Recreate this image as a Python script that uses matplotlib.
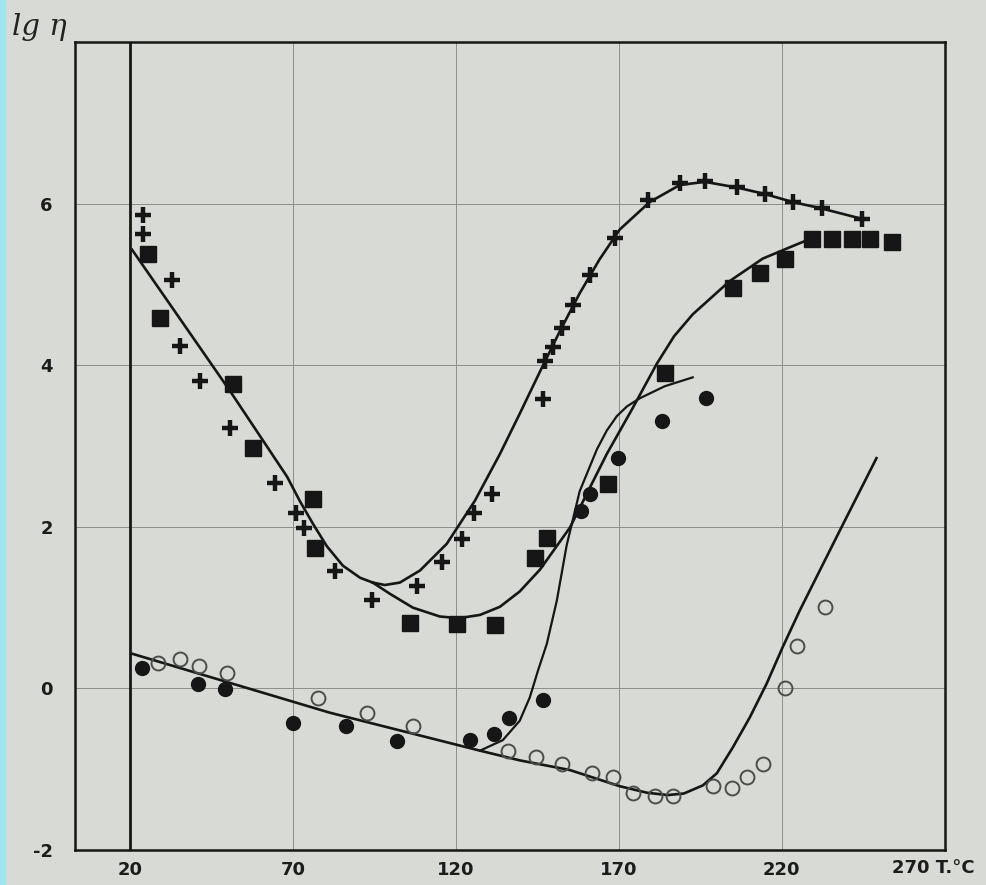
"""
lg eta vs T, old scanned chart
"""
import numpy as np
import matplotlib
matplotlib.use("Agg")
import matplotlib.pyplot as plt
from matplotlib.patches import Rectangle

# --- measured points (T in degC, lg eta) ---
plus_T = [24, 24, 32.9, 35.3, 41.5, 50.7, 64.5, 71.0, 73.4, 82.9, 94.2, 108, 115.7,
          121.8, 125.6, 131, 146.7, 147.3, 149.8, 152.5, 155.9, 161.1, 168.8, 178.9,
          188.7, 196.4, 206.2, 214.8, 223.4, 232.3, 244.8]
plus_v = [5.86, 5.62, 5.06, 4.24, 3.80, 3.22, 2.54, 2.17, 1.98, 1.45, 1.09, 1.27, 1.56,
          1.85, 2.17, 2.41, 3.58, 4.05, 4.23, 4.46, 4.75, 5.12, 5.57, 6.05,
          6.25, 6.28, 6.21, 6.12, 6.02, 5.94, 5.81]

sq_T = [25.5, 29.2, 51.6, 57.7, 76.1, 76.7, 105.9, 120.3, 132, 144.2, 147.9, 166.6,
        184.1, 205, 213.3, 220.9, 229.2, 235.6, 241.5, 247, 254]
sq_v = [5.38, 4.58, 3.77, 2.98, 2.35, 1.74, 0.81, 0.80, 0.79, 1.62, 1.86, 2.53,
        3.90, 4.95, 5.14, 5.31, 5.56, 5.56, 5.56, 5.56, 5.53]

dot_T = [23.7, 40.9, 49.1, 70, 86.3, 101.9, 124.3, 131.7, 136.3, 146.7, 158.3, 161.1,
         169.7, 183.2, 196.7]
dot_v = [0.25, 0.06, -0.01, -0.43, -0.47, -0.65, -0.64, -0.56, -0.37, -0.14, 2.20, 2.41,
         2.85, 3.31, 3.60]

ring_T = [28.6, 35.3, 41.2, 49.8, 77.7, 92.7, 106.8, 136, 144.5, 152.5, 161.7, 168.2,
          174.3, 181, 186.6, 198.8, 204.7, 209.3, 214.2, 220.9, 224.6, 233.2]
ring_v = [0.32, 0.36, 0.28, 0.19, -0.12, -0.30, -0.46, -0.77, -0.85, -0.94, -1.05, -1.10,
          -1.30, -1.33, -1.33, -1.21, -1.23, -1.10, -0.93, 0.00, 0.52, 1.01]

# --- hand drawn curves ---
# common falling branch of the + and square curves
fall_T = [20.6, 32.3, 50.7, 68.2, 72.1, 76.1, 80.4, 85.3, 90.6, 94.5]
fall_v = [5.43, 4.75, 3.68, 2.62, 2.32, 2.04, 1.76, 1.52, 1.37, 1.31]

plus_line_T = [94.5, 98.2, 102.8, 109, 117.2, 125.8, 133.5, 139.6, 145.8, 151.9, 158,
               164.1, 170.3, 179.5, 188.7, 196.4, 206.2, 214.8, 223.4, 232.3, 244.8]
plus_line_v = [1.31, 1.28, 1.31, 1.46, 1.79, 2.32, 2.90, 3.40, 3.92, 4.42, 4.89,
               5.31, 5.68, 6.02, 6.23, 6.27, 6.20, 6.12, 6.02, 5.94, 5.81]

sq_line_T = [94.5, 99.8, 106.8, 115.1, 121, 127.4, 133.5, 139.6, 145.8, 155, 160.2,
             166.3, 174, 181.7, 187, 192.7, 204, 214.2, 225.5, 228.6]
sq_line_v = [1.31, 1.17, 1.00, 0.89, 0.87, 0.91, 1.01, 1.20, 1.47, 1.99, 2.41,
             2.90, 3.45, 4.02, 4.36, 4.63, 5.04, 5.32, 5.51, 5.56]

dot_line_T = [127.4, 134.4, 139.6, 142.7, 145.2, 147.9, 151, 154, 158, 163.3, 166.3,
              169.4, 172.5, 176.4, 184.1, 192.7]
dot_line_v = [-0.77, -0.64, -0.40, -0.11, 0.22, 0.55, 1.09, 1.77, 2.44, 2.96, 3.19,
              3.37, 3.49, 3.59, 3.74, 3.85]

ring_line_T = [20.6, 81.3, 127.4, 139.6, 155, 170.3, 178.6, 185, 190, 195.8, 200.1, 205,
               210.2, 215.4, 220.3, 225.5, 237.8, 249.1]
ring_line_v = [0.43, -0.30, -0.77, -0.89, -1.01, -1.21, -1.29, -1.32, -1.30, -1.20, -1.05,
               -0.73, -0.36, 0.06, 0.51, 0.96, 1.95, 2.85]

xticks = [20, 70, 120, 170, 220]
yticks = [-2, 0, 2, 4, 6]

paper = '#d7dad5'
ink = '#161616'
txt = '#1c1c1c'

fig = plt.figure(figsize=(9.87, 8.85), dpi=100, facecolor=paper)
ax = fig.add_axes([0.076, 0.0395, 0.881, 0.913])
ax.set_facecolor(paper)

# scanner edge
fig.patches.append(Rectangle((0, 0), 0.005, 1, transform=fig.transFigure,
                             color='#9fe6ee', zorder=0))

ax.set_xlim(3.1, 270)
ax.set_ylim(-2, 8)

for g in [70, 120, 170, 220]:
    ax.axvline(g, color='#8a8f89', lw=0.7, zorder=1)
for g in [0, 2, 4, 6]:
    ax.axhline(g, color='#8a8f89', lw=0.7, zorder=1)
ax.axvline(20, color=ink, lw=2.0, zorder=2)

lw = 1.9
for xs, ys in [(fall_T, fall_v), (plus_line_T, plus_line_v), (sq_line_T, sq_line_v),
               (ring_line_T, ring_line_v)]:
    ax.plot(xs, ys, color=ink, lw=lw, solid_joinstyle='round', zorder=3)
ax.plot(dot_line_T, dot_line_v, color=ink, lw=1.6, solid_joinstyle='round', zorder=3)

ax.plot(plus_T, plus_v, ls='none', marker='+', ms=12, mew=3.2, color=ink, zorder=4)
ax.plot(sq_T, sq_v, ls='none', marker='s', ms=12, color=ink, zorder=4)
ax.plot(dot_T, dot_v, ls='none', marker='o', ms=10, color=ink, zorder=4)
ax.plot(ring_T, ring_v, ls='none', marker='o', ms=10, mfc='none', mec='#4a4d4a',
        mew=1.4, zorder=4)

for s in ax.spines.values():
    s.set_color(ink)
    s.set_linewidth(1.8)

ax.set_xticks(xticks)
ax.set_xticklabels([str(t) for t in xticks])
ax.set_yticks(yticks)
ax.set_yticklabels([str(t) for t in yticks])
ax.tick_params(length=0, labelsize=13, colors=txt, pad=8)
ax.tick_params(axis='y', pad=16)
for lab in ax.get_xticklabels() + ax.get_yticklabels():
    lab.set_fontweight('bold')

ax.text(254, -0.011, '270 T.°C', transform=ax.get_xaxis_transform(),
        ha='left', va='top', fontsize=13, fontweight='bold', color=txt)

fig.text(0.012, 0.985, 'lg η', ha='left', va='top', fontsize=21,
         family='DejaVu Serif', style='italic', color='#222')

plt.savefig('out.png', dpi=100, facecolor=paper)
